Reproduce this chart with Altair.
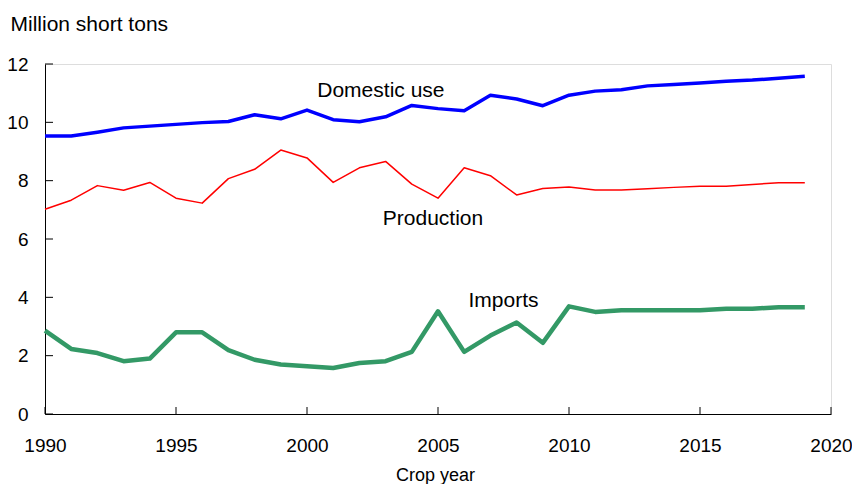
import altair as alt
import pandas as pd

years = list(range(1990, 2020))
domestic_use = [9.53, 9.53, 9.66, 9.81, 9.87, 9.93, 9.99, 10.03, 10.26, 10.12,
                10.42, 10.09, 10.02, 10.19, 10.58, 10.47, 10.40, 10.93, 10.80, 10.57,
                10.93, 11.07, 11.12, 11.25, 11.30, 11.35, 11.41, 11.45, 11.51, 11.58]
production = [7.02, 7.33, 7.83, 7.67, 7.94, 7.40, 7.23, 8.07, 8.39, 9.05,
              8.78, 7.94, 8.44, 8.66, 7.88, 7.40, 8.44, 8.17, 7.51, 7.73,
              7.78, 7.68, 7.68, 7.72, 7.77, 7.81, 7.81, 7.87, 7.93, 7.93]
imports = [2.86, 2.23, 2.09, 1.81, 1.90, 2.80, 2.80, 2.19, 1.86, 1.70,
           1.64, 1.58, 1.75, 1.81, 2.13, 3.52, 2.13, 2.69, 3.14, 2.44,
           3.69, 3.50, 3.56, 3.56, 3.56, 3.56, 3.61, 3.61, 3.66, 3.66]

series_names = ["Domestic use", "Production", "Imports"]
series_colors = ["#0000FF", "#FF0000", "#339966"]
series_widths = [3.5, 1.5, 4.5]

x_ticks = [1990, 1995, 2000, 2005, 2010, 2015, 2020]
y_ticks = [0, 2, 4, 6, 8, 10, 12]

label_text = ["Domestic use", "Production", "Imports"]
label_x = [2002.82, 2004.81, 2007.5]
label_y = [10.88, 6.48, 3.68]

FONT = "Liberation Sans"

rows = []
for name, vals in zip(series_names, [domestic_use, production, imports]):
    for yr, v in zip(years, vals):
        rows.append({"year": yr, "value": v, "series": name})
df = pd.DataFrame(rows)

xscale = alt.Scale(domain=[1990, 2020], nice=False, zero=False)
yscale = alt.Scale(domain=[0, 12], nice=False)

xaxis = alt.Axis(values=x_ticks, format="d", ticks=False, tickSize=0, grid=False,
                 domainColor="black", domainWidth=1, labelFont=FONT, labelFontSize=19,
                 labelColor="black", labelPadding=22, title="Crop year",
                 titleFont=FONT, titleFontSize=18, titleFontWeight="normal",
                 titleColor="black", titleX=390, titleY=66, titleAnchor="start",
                 titleAlign="center", titleBaseline="alphabetic", labelFlush=False)
yaxis = alt.Axis(values=y_ticks, ticks=False, tickSize=0, grid=False,
                 domainColor="black", domainWidth=1, labelFont=FONT, labelFontSize=19,
                 labelColor="black", labelPadding=17, title="Million short tons",
                 titleFont=FONT, titleFontSize=21, titleFontWeight="normal",
                 titleColor="black", titleAngle=0, titleAlign="left",
                 titleBaseline="alphabetic", titleX=-35, titleY=-34, titleAnchor="start")

base = alt.Chart(df)

lines = []
for name, col, w in zip(series_names, series_colors, series_widths):
    lines.append(
        base.transform_filter(alt.datum.series == name)
        .mark_line(color=col, strokeWidth=w, strokeJoin="round", clip=False)
        .encode(x=alt.X("year:Q", scale=xscale, axis=xaxis),
                y=alt.Y("value:Q", scale=yscale, axis=yaxis))
    )

ydf = pd.DataFrame({"v": y_ticks})
xdf = pd.DataFrame({"v": x_ticks})
yticks = alt.Chart(ydf).mark_rule(color="black", strokeWidth=1).encode(
    y=alt.Y("v:Q", scale=yscale), x=alt.value(0), x2=alt.value(8))
xticks = alt.Chart(xdf).mark_rule(color="black", strokeWidth=1).encode(
    x=alt.X("v:Q", scale=xscale), y=alt.value(350), y2=alt.value(343))

ldf = pd.DataFrame({"t": label_text, "x": label_x, "y": label_y})
labels = alt.Chart(ldf).mark_text(font=FONT, fontSize=21, color="black",
                                  align="center", baseline="alphabetic").encode(
    x=alt.X("x:Q", scale=xscale), y=alt.Y("y:Q", scale=yscale), text="t:N")

chart = alt.layer(*lines, yticks, xticks, labels).properties(
    width=786, height=350,
    autosize=alt.AutoSizeParams(type="none"),
    padding={"left": 37, "top": 56, "right": 21, "bottom": 70},
).configure_view(stroke=None).configure(background="white")

chart.save("out.html", embed_options={"renderer": "svg", "actions": False})
